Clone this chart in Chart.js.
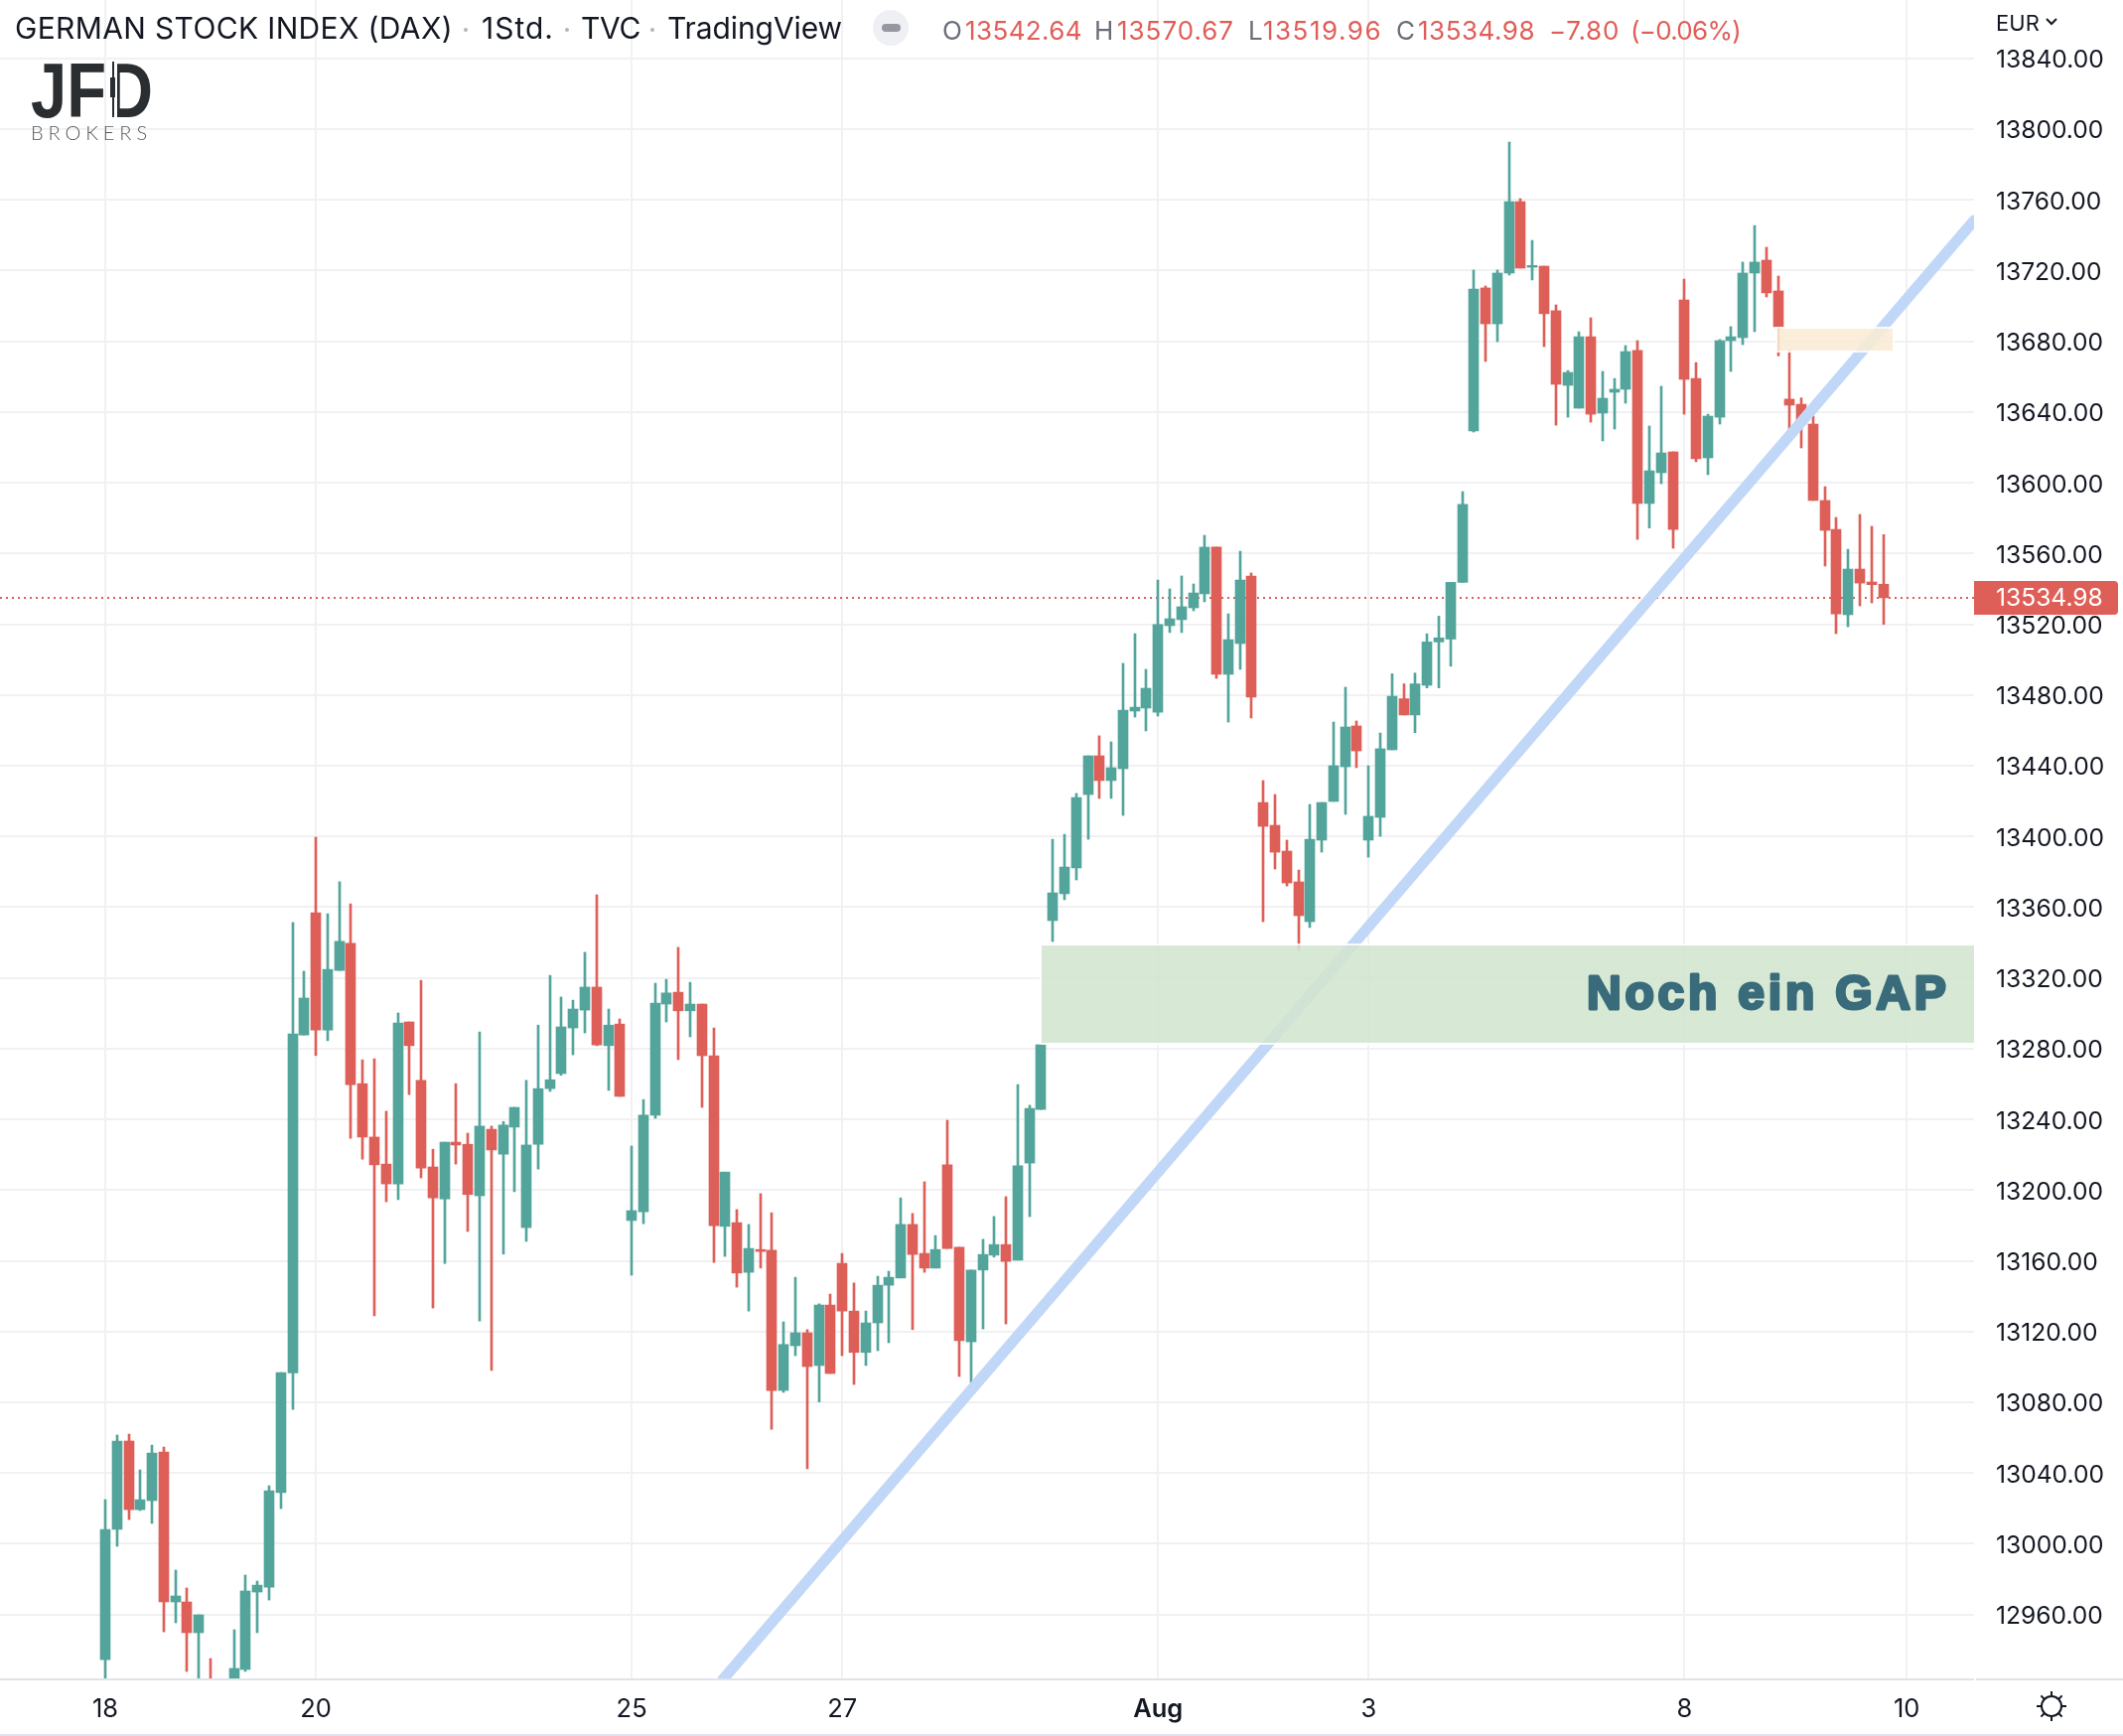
<!DOCTYPE html>
<html><head><meta charset="utf-8">
<style>html,body{margin:0;padding:0;background:#fff}canvas{display:block}</style>
<script src="https://cdn.jsdelivr.net/npm/chart.js@4/dist/chart.umd.min.js"></script>
</head><body><canvas id="c" width="2138" height="1748"></canvas>
<script>
const opens=[12934.5,13008.1,13058.1,13019.3,13024.4,13051.9,12967.1,12967.1,12949.7,12920,12908,12918,12928.9,12972.7,12975.5,13028.9,13096.6,13287.7,13356.9,13290.5,13324.2,13339.5,13260.2,13230,13214.7,13203.5,13295.1,13262.1,13213.1,13195,13227.1,13225.9,13196.8,13234.4,13220.3,13235.6,13178.8,13225.9,13257.4,13265.9,13291.7,13301.8,13314.8,13281.7,13293.9,13182.8,13187.8,13242.4,13305.2,13311.9,13301.4,13305.2,13276,13179.5,13181.6,13153.5,13166.4,13166,13086.7,13112,13119.3,13100.8,13135,13158.6,13131.6,13108.2,13124.9,13146.2,13150.3,13180.6,13164.2,13155.9,13214.3,13167.7,13114.2,13154.8,13163.2,13169.2,13160.4,13215.3,13245.6,13352.4,13367.6,13382.2,13423.7,13445.6,13431.6,13438.3,13470.9,13472.6,13470.3,13519.2,13522.6,13529.3,13537.2,13563.6,13491.7,13509.1,13547.3,13419.2,13406.3,13391.7,13374.3,13351.8,13397.9,13419.8,13439.4,13462.5,13397.9,13410.8,13449,13477.9,13468.7,13485.5,13510,13511.6,13543.7,13629.3,13710.2,13689.9,13718.6,13759,13721.9,13722.5,13697.3,13655.1,13642.2,13682.6,13639.4,13651.2,13652.9,13674.8,13588.3,13605.7,13617.5,13703.4,13659,13614.1,13637.1,13680.4,13682.1,13718.6,13725.9,13708.5,13647.3,13644.4,13633.2,13590,13573.7,13525.4,13551.2,13543.9,13542.64];
const closes=[13008.1,13058.1,13019.3,13024.9,13051.3,12967.1,12970.5,12949.7,12959.8,12912,12915,12929.5,12973.3,12976.6,13030,13096.8,13288.3,13308.6,13290.5,13324.8,13340.7,13259.6,13230,13214.3,13203.5,13294.5,13281.7,13212.5,13195.6,13227.1,13225.5,13197.5,13236.2,13222.7,13236.8,13246.8,13225.5,13257.4,13262.4,13292.3,13302.4,13314.8,13282.1,13293.3,13253,13188.4,13242.4,13305.8,13311.5,13301.4,13305.2,13276,13179.9,13210.2,13153.1,13167,13165.3,13086.7,13112.7,13119.3,13100.2,13135,13096.3,13131.6,13108.2,13124.9,13146.2,13150.7,13180.6,13163.6,13155.9,13166.4,13167,13114.8,13154.8,13163.6,13169.2,13159.7,13213.7,13246.2,13282.2,13368.1,13382.7,13422,13445.6,13431.6,13438.9,13471.4,13473.1,13483.8,13519.8,13523.1,13529.9,13537.7,13563.6,13491.7,13511.3,13545,13478.8,13405.7,13391.1,13373.7,13355.2,13398.4,13419.2,13440,13461.9,13448.4,13411.4,13449.6,13479.3,13468.7,13486.3,13510,13512.3,13543.7,13587.8,13709.6,13689.9,13718.6,13759,13721.4,13722.9,13695.6,13655.7,13662.4,13682.6,13638.8,13647.8,13652.9,13674.2,13588.3,13606.8,13616.9,13573.6,13658.5,13613.6,13637.7,13680.4,13682.6,13718.6,13724.8,13707.4,13688.3,13643.9,13633.2,13590,13573.1,13525.9,13551.2,13543.3,13542.4,13534.98];
const highs=[13025,13061.5,13062,13041.8,13055.8,13054.7,12985.1,12975,12959.8,12935.1,12918,12951.4,12982.3,12978.9,13032.8,13096.8,13351.3,13323.8,13399.6,13356.3,13374.4,13361.9,13273.7,13274.3,13244.6,13300.2,13295.1,13318.6,13223.1,13227.1,13260.2,13232.2,13289.5,13236.2,13238.8,13246.8,13262.1,13293.3,13321.4,13309.2,13307.4,13334.5,13367,13302.4,13296.8,13224.9,13251.2,13317,13319.2,13337.3,13317.5,13305.2,13291.7,13210.2,13189,13180.6,13198,13187.2,13125.5,13150.7,13121.1,13135.7,13141.2,13164.2,13147.5,13131.6,13151.3,13154.1,13195.6,13186.8,13204.7,13174.3,13239.5,13167.7,13154.8,13172.2,13185.1,13196.3,13259.7,13248,13282.2,13398.4,13401.2,13424.3,13445.6,13456.9,13453.5,13497.9,13514.7,13494.5,13545,13540,13547.3,13542.8,13570.3,13563.6,13525.9,13561.3,13549,13431.6,13423.7,13397.9,13381,13418.1,13419.2,13464.7,13484.4,13465.3,13440,13458.5,13492,13486.3,13492.4,13514.6,13524.6,13543.7,13595,13720.3,13711.3,13720.3,13792.7,13760.7,13737.1,13722.5,13700.6,13663.5,13685.4,13693.3,13663,13659,13677.6,13680.4,13632.1,13654.6,13617.5,13715.2,13668,13638.8,13681,13688.3,13724.8,13745.5,13733.2,13716.9,13675,13648,13637.7,13597.8,13580.4,13562.4,13582.1,13575.4,13570.67];
const lows=[12915,12998.6,13013.7,13018.8,13011.5,12950.2,12955.3,12927.8,12915,12900,12900,12912,12927.8,12949.7,12968.2,13019.9,13076,13287.7,13276.1,13284.5,13324.2,13229.3,13217.5,13128.9,13193.4,13194.6,13254,13206.9,13133.3,13158.5,13214.7,13176.6,13126,13098,13163.8,13199.1,13171,13211.9,13255.8,13264.9,13276.5,13288.9,13281.7,13256.4,13253,13151.9,13181,13240.6,13295.1,13273.8,13286.7,13246.8,13159.1,13162.5,13145.1,13131.6,13155.9,13064.7,13085.6,13106.4,13042.4,13080.2,13096.3,13106.4,13090.1,13100.8,13109.2,13113.7,13150.3,13121.1,13153.5,13155.9,13167,13094.6,13091.2,13121.5,13162.1,13124.3,13160.4,13185,13245.6,13340.6,13364.2,13375.4,13398.4,13421.5,13421.5,13411.9,13467.5,13459.7,13468.1,13515.3,13515.3,13527.6,13532.7,13489.4,13464.7,13494.5,13467,13351.8,13381.6,13372,13335.7,13348.5,13391.1,13419.8,13412.5,13438.9,13388.3,13400.1,13449,13468.7,13458.7,13484,13484,13496.3,13543.7,13628.7,13668.6,13679.8,13717.5,13721.4,13714.7,13677,13632.6,13637.1,13642.2,13634.3,13623.7,13630.4,13645,13568,13574.4,13599.5,13563,13638.8,13611.9,13604.6,13633.2,13663,13678.1,13685.5,13705.1,13671.8,13628.2,13619.7,13590,13552.9,13514.7,13518.6,13530.4,13532.1,13519.96];

const xTickIndex=[0,18,45,63,90,108,135,154];
const xTickLabels=['18','20','25','27','Aug','3','8','10'];
const yTickValues=[12960,13000,13040,13080,13120,13160,13200,13240,13280,13320,13360,13400,13440,13480,13520,13560,13600,13640,13680,13720,13760,13800,13840];
const lastPrice=13534.98;
const trendX=[52.8,159.76];
const trendY=[12923.3,13748.3];
const gapZoneX=[80.05,159.76];
const gapZoneY=[13283.3,13338.3];
const creamZoneX=[142.96,152.8];
const creamZoneY=[13674.8,13687.1];
const xRange=[-9,159.76];
const yRange=[12923.3,13873.03];

const UP='#53a59b',DOWN='#de5f58',GRID='#f1f1f3',INK='#131722';
const idx=opens.map((_,i)=>i);
const colors=idx.map(i=>closes[i]>=opens[i]?UP:DOWN);

function fit(ctx,text,x,w,y,font,color){
  ctx.save();ctx.font=font;ctx.fillStyle=color;ctx.textAlign='left';ctx.textBaseline='middle';
  ctx.letterSpacing='0px';
  const m=ctx.measureText(text).width;
  const n=Math.max(1,text.length);
  ctx.letterSpacing=((w-m)/n).toFixed(3)+'px';
  ctx.fillText(text,x,y);ctx.restore();
}
const snap={id:'snap',afterDatasetsUpdate(ch){
  ch.data.datasets.forEach((d,k)=>{if(d.type==='bar'){ch.getDatasetMeta(k).data.forEach(el=>{el.x=Math.round(el.x);});}});
}};
const under={id:'under',beforeDatasetsDraw(ch){
  const {ctx,scales:{y},chartArea:a}=ch;const p=Math.round(y.getPixelForValue(lastPrice));
  ctx.save();ctx.strokeStyle=DOWN;ctx.lineWidth=2;ctx.setLineDash([2,4]);
  ctx.beginPath();ctx.moveTo(a.left,p);ctx.lineTo(a.right,p);ctx.stroke();ctx.restore();
}};
const over={id:'over',afterDatasetsDraw(ch){
  const {ctx,scales:{x,y},chartArea:a}=ch;
  function zone(xs,ys,col){
    const l=Math.round(x.getPixelForValue(xs[0])),r=Math.round(x.getPixelForValue(xs[1]));
    const t=Math.round(y.getPixelForValue(ys[1])),b=Math.round(y.getPixelForValue(ys[0]));
    ctx.save();
    ctx.beginPath();ctx.rect(a.left,a.top,a.width,a.height);ctx.clip();
    ctx.fillStyle='rgba(255,255,255,.85)';
    ctx.fillRect(l-2,t-2,r-l+4,b-t+4);
    ctx.restore();
    ctx.save();ctx.fillStyle=col;ctx.fillRect(l,t,r-l,b-t);ctx.restore();
  }
  zone(creamZoneX,creamZoneY,'rgba(222,142,8,.15)');
  zone(gapZoneX,gapZoneY,'rgba(95,163,87,.25)');
},afterDraw(ch){
  const {ctx,scales:{y},chartArea:a}=ch;
  // zone caption
  ctx.save();
  ctx.font='bold 48px "Liberation Sans"';ctx.textBaseline='alphabetic';ctx.textAlign='left';
  ctx.letterSpacing='3.8px';ctx.fillStyle='#396b7b';ctx.strokeStyle='#396b7b';ctx.lineWidth=3;ctx.lineJoin='round';
  ctx.strokeText('Noch ein GAP',1598,1016);ctx.fillText('Noch ein GAP',1598,1016);
  ctx.restore();
  // header
  const f30='30px Inter';
  fit(ctx,'GERMAN STOCK INDEX (DAX)',15,441,30,f30,INK);
  fit(ctx,'1Std.',485,73,30,f30,INK);
  fit(ctx,'TVC',585,60,30,f30,INK);
  fit(ctx,'TradingView',672,176,30,f30,INK);
  ctx.fillStyle='#b2b5be';
  [469,571,657].forEach(cx=>{ctx.beginPath();ctx.arc(cx,30,2,0,7);ctx.fill();});
  ctx.fillStyle='#eff0f3';ctx.beginPath();ctx.roundRect(879,10,36,36,18);ctx.fill();
  ctx.fillStyle='#9598a1';ctx.beginPath();ctx.roundRect(888,24,19,8,4);ctx.fill();
  const gray='#6a6d78',red='#e05d57',fv='26px Inter';
  fit(ctx,'O',949,20,32,fv,gray);fit(ctx,'13542.64',972,118,32,fv,red);
  fit(ctx,'H',1102,20,32,fv,gray);fit(ctx,'13570.67',1125,118,32,fv,red);
  fit(ctx,'L',1257,14,32,fv,gray);fit(ctx,'13519.96',1272,120,32,fv,red);
  fit(ctx,'C',1406,19,32,fv,gray);fit(ctx,'13534.98',1428,118,32,fv,red);
  fit(ctx,'\u22127.80',1560,71,32,fv,red);fit(ctx,'(\u22120.06%)',1642,111,32,fv,red);
  // currency
  fit(ctx,'EUR',2010,44,24,'22px Inter',INK);
  ctx.save();ctx.strokeStyle=INK;ctx.lineWidth=2;ctx.beginPath();ctx.moveTo(2061,19);ctx.lineTo(2066,24);ctx.lineTo(2071,19);ctx.stroke();ctx.restore();
  // logo
  ctx.save();ctx.translate(31,118);ctx.scale(0.835,1);ctx.font='bold 78px "Liberation Sans"';ctx.fillStyle='#2a2e31';ctx.textBaseline='alphabetic';ctx.textAlign='left';
  ctx.fillText('JFD',0,0);ctx.restore();
  ctx.fillStyle='#fff';ctx.fillRect(110,60,8,60);
  ctx.fillStyle='#2a2e31';ctx.fillRect(113,62,2,56);ctx.fillRect(111,78,5,20);
  fit(ctx,'BROKERS',31,122,135,'300 20px Lato','#55595c');
  // axis frame
  ctx.fillStyle='#e0e3eb';
  ctx.fillRect(0,a.bottom-1,1988,2);ctx.fillRect(1990,a.bottom-1,148,2);ctx.fillRect(0,1746,2138,2);
  // last price tag
  const p=y.getPixelForValue(lastPrice);
  ctx.fillStyle=DOWN;ctx.beginPath();ctx.roundRect(1988,p-17,145,34,[0,4,4,0]);ctx.fill();
  ctx.save();ctx.font='24.6px Inter';ctx.fillStyle='#fff';ctx.textAlign='left';ctx.textBaseline='middle';
  ctx.fillText(lastPrice.toFixed(2),2010,p+1);ctx.restore();
  // settings sun
  ctx.save();ctx.strokeStyle=INK;ctx.lineWidth=2;ctx.beginPath();ctx.arc(2066,1718,10,0,7);ctx.stroke();
  for(let k=0;k<8;k++){const t=k*Math.PI/4;ctx.beginPath();ctx.moveTo(2066+10*Math.cos(t),1718+10*Math.sin(t));ctx.lineTo(2066+15*Math.cos(t),1718+15*Math.sin(t));ctx.stroke();}
  ctx.restore();
}};

new Chart(document.getElementById('c'),{
  type:'bar',
  data:{datasets:[
    {type:'bar',label:'wick',data:idx.map(i=>({x:i,y:[lows[i],highs[i]]})),backgroundColor:colors,barThickness:2,grouped:false,order:3},
    {type:'bar',label:'body',data:idx.map(i=>({x:i,y:[opens[i],closes[i]]})),backgroundColor:colors,barThickness:10,grouped:false,order:2},
    {type:'line',label:'trend',data:trendX.map((v,i)=>({x:v,y:trendY[i]})),borderColor:'#c1d7f7',borderWidth:11,pointRadius:0,borderCapStyle:'round',tension:0,order:1}
  ]},
  options:{
    responsive:false,animation:false,devicePixelRatio:1,
    layout:{padding:0},
    plugins:{legend:{display:false},title:{display:false},tooltip:{enabled:false}},
    scales:{
      x:{type:'linear',offset:false,min:xRange[0],max:xRange[1],
        grid:{color:GRID,lineWidth:2,drawTicks:false,offset:false},border:{display:false},
        afterBuildTicks(s){s.ticks=xTickIndex.map(v=>({value:v}));},
        afterFit(s){s.height=57;s.paddingLeft=0;s.paddingRight=0;},
        ticks:{autoSkip:false,maxRotation:0,padding:15,color:INK,align:'center',
          font:c=>({family:'Inter',size:25.5,weight:c.index===4?'600':'400'}),
          callback:(v)=>{const k=xTickIndex.indexOf(v);return k<0?'':xTickLabels[k];}}},
      y:{type:'linear',position:'right',offset:false,min:yRange[0],max:yRange[1],
        grid:{color:GRID,lineWidth:2,drawTicks:false},border:{display:false},
        afterBuildTicks(s){s.ticks=yTickValues.map(v=>({value:v}));},
        afterFit(s){
          s.width=150;s.paddingTop=0;s.paddingBottom=0;
          if(!s._shifted){s._shifted=true;const o=s._computeLabelItems;
            s._computeLabelItems=function(c){const it=o.call(this,c);it.forEach(t=>{t.options.translation=[t.options.translation[0],t.options.translation[1]+2];});return it;};}
        },
        ticks:{autoSkip:false,padding:22,color:'#131722',font:{family:'Inter',size:24.6},crossAlign:'near',
          callback:v=>Number(v).toFixed(2)}}
    }
  },
  plugins:[snap,under,over]
});
</script></body></html>
